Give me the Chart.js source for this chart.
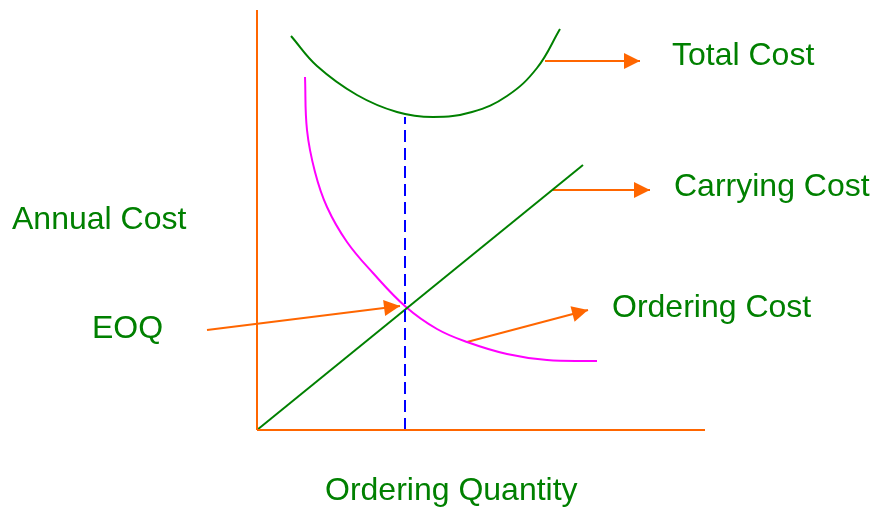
<!DOCTYPE html>
<html>
<head>
<meta charset="utf-8">
<script src="https://cdn.jsdelivr.net/npm/chart.js@4"></script>
<style>
  html, body { margin: 0; padding: 0; background: #fff; }
  #wrap { width: 874px; height: 507px; }
</style>
</head>
<body>
<div id="wrap"><canvas id="eoqChart" width="874" height="507"></canvas></div>
<script>
// ---------- Data (quantity, cost) ----------
const totalCost = [
  { x: 34, y: 394 }, { x: 60, y: 364 }, { x: 100, y: 335 }, { x: 140, y: 318 },
  { x: 176, y: 313 }, { x: 215, y: 318 }, { x: 250, y: 334 }, { x: 280, y: 362 },
  { x: 303, y: 401 },
];
const carryingCost = [{ x: 0, y: 0 }, { x: 326, y: 265 }];
const orderingCost = [
  { x: 48, y: 353 }, { x: 50, y: 300 }, { x: 58, y: 258 }, { x: 70, y: 223 },
  { x: 90, y: 188 }, { x: 116, y: 157 }, { x: 149, y: 123 }, { x: 180, y: 101 },
  { x: 210, y: 88 }, { x: 250, y: 76 }, { x: 290, y: 70 }, { x: 340, y: 69 },
];
const eoqLine = [{ x: 148, y: 0 }, { x: 148, y: 313 }];
const costAxis = [{ x: 0, y: 0 }, { x: 0, y: 420 }];
const quantityAxis = [{ x: 0, y: 0 }, { x: 448, y: 0 }];

// label pointers
const totalArrow = [{ x: 288, y: 369 }, { x: 383, y: 369 }];
const carryingArrow = [{ x: 296, y: 240 }, { x: 393, y: 240 }];
const orderingArrow = [{ x: 210, y: 88 }, { x: 331, y: 120 }];
const eoqArrow = [{ x: -50, y: 100 }, { x: 143, y: 124 }];

const labelTexts = ["Total Cost", "Carrying Cost", "Ordering Cost", "Annual Cost", "EOQ", "Ordering Quantity"];

// ---------- Colours ----------
const GREEN = "#008000";
const ORANGE = "#ff6600";
const MAGENTA = "#ff00ff";
const BLUE = "#0000ff";

// ---------- Plugins ----------
const arrowHeads = {
  id: "arrowHeads",
  afterDatasetsDraw(chart) {
    const ctx = chart.ctx;
    chart.data.datasets.forEach((ds, i) => {
      if (!ds.arrow) return;
      const pts = chart.getDatasetMeta(i).data;
      const a = pts[pts.length - 2], b = pts[pts.length - 1];
      const ang = Math.atan2(b.y - a.y, b.x - a.x);
      const len = 16, half = 8;
      ctx.save();
      ctx.translate(b.x, b.y);
      ctx.rotate(ang);
      ctx.fillStyle = ds.borderColor;
      ctx.beginPath();
      ctx.moveTo(0, 0);
      ctx.lineTo(-len, -half);
      ctx.lineTo(-len, half);
      ctx.closePath();
      ctx.fill();
      ctx.restore();
    });
  },
};

const textLabels = {
  id: "textLabels",
  afterDraw(chart, args, opts) {
    const ctx = chart.ctx;
    const sx = chart.scales.x, sy = chart.scales.y;
    ctx.save();
    ctx.font = opts.font;
    ctx.fillStyle = opts.color;
    ctx.textBaseline = "middle";
    ctx.textAlign = "left";
    opts.items.forEach((it) => {
      ctx.fillText(it.text, sx.getPixelForValue(it.x), sy.getPixelForValue(it.y));
    });
    ctx.restore();
  },
};

function line(data, color, extra = {}) {
  return Object.assign({
    data,
    borderColor: color,
    borderWidth: 2,
    pointRadius: 0,
    fill: false,
    tension: 0,
  }, extra);
}

const ctx = document.getElementById("eoqChart").getContext("2d");
new Chart(ctx, {
  type: "line",
  data: {
    datasets: [
      line(costAxis, ORANGE),
      line(quantityAxis, ORANGE),
      line(eoqLine, BLUE, { borderDash: [12, 6] }),
      line(carryingCost, GREEN),
      line(orderingCost, MAGENTA, { tension: 0.4 }),
      line(totalCost, GREEN, { tension: 0.4 }),
      line(totalArrow, ORANGE, { arrow: true }),
      line(carryingArrow, ORANGE, { arrow: true }),
      line(orderingArrow, ORANGE, { arrow: true }),
      line(eoqArrow, ORANGE, { arrow: true }),
    ],
  },
  options: {
    responsive: false,
    animation: false,
    layout: { padding: 0 },
    plugins: {
      legend: { display: false },
      tooltip: { enabled: false },
      textLabels: {
        font: "32px 'Liberation Sans', Arial, sans-serif",
        color: GREEN,
        items: [
          { text: labelTexts[0], x: 415, y: 374 },
          { text: labelTexts[1], x: 417, y: 243 },
          { text: labelTexts[2], x: 355, y: 122 },
          { text: labelTexts[3], x: -245, y: 210 },
          { text: labelTexts[4], x: -165, y: 101 },
          { text: labelTexts[5], x: 68, y: -61 },
        ],
      },
    },
    scales: {
      x: { type: "linear", min: -257, max: 617, display: false },
      y: { type: "linear", min: -77, max: 430, display: false },
    },
  },
  plugins: [arrowHeads, textLabels],
});
</script>
</body>
</html>
